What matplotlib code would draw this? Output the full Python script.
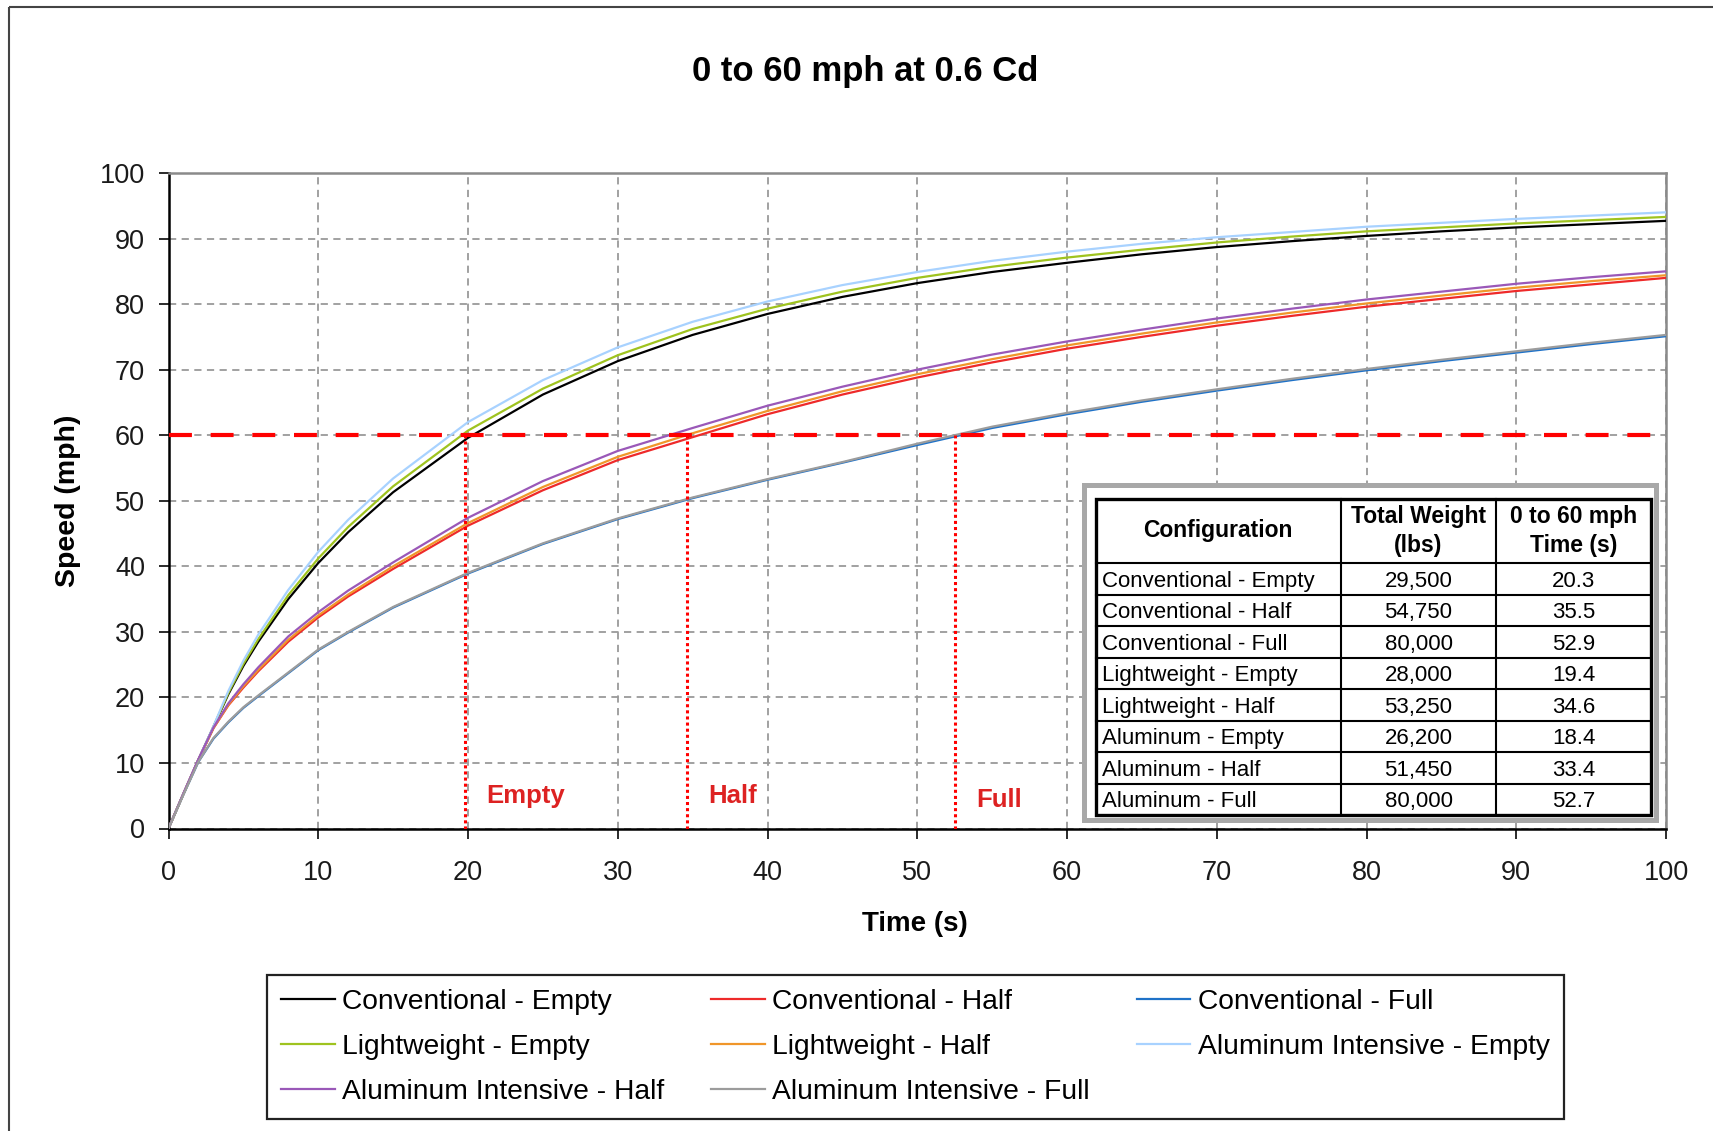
import matplotlib
matplotlib.use('Agg')
import matplotlib.pyplot as plt
from matplotlib.patches import Rectangle

plt.rcParams['font.family'] = ['Liberation Sans', 'DejaVu Sans']

W, H = 1713, 1131

t = [0, 1, 2, 3, 4, 5, 6, 8, 10, 12, 15, 20, 25, 30, 35, 40, 45, 50, 55, 60,
     65, 70, 75, 80, 85, 90, 95, 100]

# speed (mph) for each configuration
conv_empty = [0, 5.3, 10.5, 15.5, 20.5, 24.8, 28.5, 35.0, 40.5, 45.2, 51.3, 59.6, 66.2, 71.3,
              75.3, 78.5, 81.1, 83.2, 84.9, 86.3, 87.6, 88.7, 89.6, 90.4, 91.1, 91.7, 92.2, 92.7]
conv_half = [0, 5.3, 10.5, 15.3, 18.8, 21.5, 24.0, 28.5, 32.2, 35.4, 39.6, 46.2, 51.6, 56.2,
             59.7, 63.2, 66.2, 68.8, 71.1, 73.2, 75.0, 76.7, 78.2, 79.6, 80.8, 82.0, 83.0, 84.0]
conv_full = [0, 5.2, 10.2, 13.7, 16.2, 18.4, 20.2, 23.7, 27.2, 29.9, 33.7, 38.9, 43.4, 47.2,
             50.4, 53.2, 55.8, 58.5, 61.1, 63.2, 65.1, 66.8, 68.4, 69.9, 71.3, 72.6, 73.9, 75.1]
lw_empty = [0, 5.3, 10.5, 15.5, 20.7, 25.1, 28.9, 35.6, 41.2, 46.0, 52.2, 60.7, 67.1, 72.2,
            76.2, 79.3, 81.9, 84.0, 85.7, 87.1, 88.3, 89.4, 90.3, 91.1, 91.7, 92.3, 92.8, 93.3]
lw_half = [0, 5.3, 10.5, 15.3, 18.9, 21.7, 24.2, 28.8, 32.5, 35.7, 40.0, 46.6, 52.1, 56.7,
           60.3, 63.7, 66.7, 69.3, 71.6, 73.7, 75.5, 77.2, 78.7, 80.1, 81.3, 82.5, 83.5, 84.4]
al_empty = [0, 5.3, 10.5, 15.6, 21.0, 25.6, 29.6, 36.4, 42.2, 47.1, 53.4, 62.0, 68.4, 73.4,
            77.3, 80.4, 82.9, 84.9, 86.6, 88.0, 89.2, 90.2, 91.0, 91.8, 92.4, 93.0, 93.5, 94.0]
al_half = [0, 5.4, 10.6, 15.4, 19.1, 22.0, 24.6, 29.3, 33.0, 36.3, 40.6, 47.4, 53.0, 57.6,
           61.1, 64.5, 67.4, 70.0, 72.3, 74.3, 76.1, 77.8, 79.3, 80.7, 81.9, 83.1, 84.1, 85.0]
al_full = [0, 5.2, 10.2, 13.8, 16.3, 18.5, 20.3, 23.8, 27.3, 30.0, 33.8, 39.0, 43.5, 47.3,
           50.5, 53.3, 55.9, 58.7, 61.3, 63.4, 65.3, 67.0, 68.6, 70.1, 71.5, 72.8, 74.1, 75.3]

series = [conv_empty, conv_half, conv_full, lw_empty, lw_half, al_empty, al_half, al_full]
names = ['Conventional - Empty', 'Conventional - Half', 'Conventional - Full',
         'Lightweight - Empty', 'Lightweight - Half', 'Aluminum Intensive - Empty',
         'Aluminum Intensive - Half', 'Aluminum Intensive - Full']
colors = ['#000000', '#ee2a2a', '#1f72c8', '#9fc31f', '#f0962a', '#a8d2ff',
          '#9a58b8', '#9c9c9c']

# 0-60 crossing markers
mark_x = [19.8, 34.6, 52.5]
mark_names = ['Empty', 'Half', 'Full']
mark_label_y = [4.9, 4.9, 4.4]

# summary table
tbl_head = ['Configuration', 'Total Weight\n(lbs)', '0 to 60 mph\nTime (s)']
tbl_config = ['Conventional - Empty', 'Conventional - Half', 'Conventional - Full',
              'Lightweight - Empty', 'Lightweight - Half', 'Aluminum - Empty',
              'Aluminum - Half', 'Aluminum - Full']
tbl_weight = ['29,500', '54,750', '80,000', '28,000', '53,250', '26,200', '51,450', '80,000']
tbl_time = ['20.3', '35.5', '52.9', '19.4', '34.6', '18.4', '33.4', '52.7']

fig = plt.figure(figsize=(W / 100, H / 100), dpi=100)
ax = fig.add_axes([168.5 / W, 1 - 828.5 / H, (1666 - 168.5) / W, (828.5 - 173) / H])

for y, c, n in zip(series, colors, names):
    ax.plot(t, y, color=c, lw=1.6, label=n, zorder=3)

ax.axhline(60, color='#ff0000', lw=3, dashes=(5.5, 4.5), zorder=4)
for x, n, ly in zip(mark_x, mark_names, mark_label_y):
    ax.plot([x, x], [0, 60], color='#ff0000', lw=2.2, linestyle=(0, (1, 1)), zorder=4)
    ax.text(x + 1.45, ly, n, color='#dd2222', fontsize=18.5, fontweight='bold',
            ha='left', va='center', zorder=4)

ax.set_xlim(0, 100)
ax.set_ylim(0, 100)
ax.set_xticks(range(0, 101, 10))
ax.set_yticks(range(0, 101, 10))
ax.set_axisbelow(True)
ax.grid(True, color='#9a9a9a', lw=1.3, linestyle=(0, (4, 3)))
ax.tick_params(direction='out', length=7, width=1.3, labelsize=19.5, colors='#1a1a1a')
ax.tick_params(axis='x', pad=16)
ax.tick_params(axis='y', pad=10)
ax.spines['left'].set_color('black')
ax.spines['bottom'].set_color('black')
ax.spines['left'].set_linewidth(1.8)
ax.spines['bottom'].set_linewidth(1.8)
ax.spines['top'].set_color('#8a8a8a')
ax.spines['right'].set_color('#8a8a8a')
ax.spines['top'].set_linewidth(1.8)
ax.spines['right'].set_linewidth(1.8)

fig.text(865 / W, 1 - 71 / H, '0 to 60 mph at 0.6 Cd', ha='center', va='center',
         fontsize=25, fontweight='bold')
fig.text(915 / W, 1 - 924 / H, 'Time (s)', ha='center', va='center',
         fontsize=20, fontweight='bold')
fig.text(68 / W, 1 - 501 / H, 'Speed (mph)', ha='center', va='center', rotation=90,
         fontsize=20.5, fontweight='bold')

# legend, filled column by column to read row by row like the original
order = [0, 3, 6, 1, 4, 7, 2, 5]
handles, labels = ax.get_legend_handles_labels()
leg = fig.legend([handles[i] for i in order], [labels[i] for i in order], ncol=3,
                 loc='upper left', bbox_to_anchor=(267 / W, 1 - 1118 / H, 1297 / W, 143 / H),
                 mode='expand', fontsize=20.3, handlelength=1.9, handletextpad=0.27,
                 labelspacing=0.67, borderpad=0.5, borderaxespad=0, fancybox=False,
                 frameon=True, edgecolor='#222222', framealpha=1)
leg.get_frame().set_linewidth(1.6)

# overlay in pixel coordinates for the table and outer frame
ov = fig.add_axes([0, 0, 1, 1], zorder=5)
ov.set_xlim(0, W)
ov.set_ylim(H, 0)
ov.axis('off')
ov.patch.set_visible(False)

ov.add_patch(Rectangle((9, 7), W + 20, H + 20, fill=False, edgecolor='#444444', lw=1.5))

ov.add_patch(Rectangle((1083.5, 484.5), 572, 335, facecolor='white',
                       edgecolor='#a8a8a8', lw=3.6))
col_x = [1095.5, 1341, 1496, 1651]
row_y = [498.5, 563] + [563 + 31.5 * (i + 1) for i in range(len(tbl_config))]
for x in col_x[1:-1]:
    ov.plot([x, x], [row_y[0], row_y[-1]], color='black', lw=1.5)
for y in row_y[1:-1]:
    ov.plot([col_x[0], col_x[-1]], [y, y], color='black', lw=1.5)
ov.add_patch(Rectangle((col_x[0], row_y[0]), col_x[-1] - col_x[0], row_y[-1] - row_y[0],
                       fill=False, edgecolor='black', lw=2.4))

hy = (row_y[0] + row_y[1]) / 2
for i, h in enumerate(tbl_head):
    ov.text((col_x[i] + col_x[i + 1]) / 2, hy, h, ha='center', va='center',
            fontsize=16.5, fontweight='bold', linespacing=1.35)
for r in range(len(tbl_config)):
    cy = (row_y[r + 1] + row_y[r + 2]) / 2 + 2.5
    ov.text(col_x[0] + 6, cy, tbl_config[r], ha='left', va='center', fontsize=16)
    ov.text((col_x[1] + col_x[2]) / 2, cy, tbl_weight[r], ha='center', va='center', fontsize=16)
    ov.text((col_x[2] + col_x[3]) / 2, cy, tbl_time[r], ha='center', va='center', fontsize=16)

fig.savefig('out.png', dpi=100)
